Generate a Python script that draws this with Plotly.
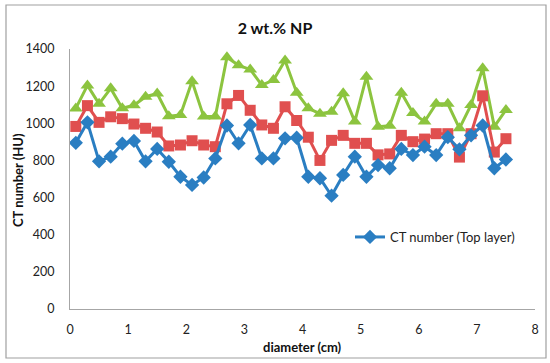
import plotly.graph_objects as go

diameter = [round(0.1 + 0.2 * i, 1) for i in range(38)]

top_layer = [895, 1005, 795, 820, 890, 905, 795, 862, 793, 712,
             668, 708, 811, 988, 892, 991, 811, 811, 919, 922,
             712, 704, 610, 722, 820, 712, 775, 758, 862, 829,
             874, 829, 925, 860, 935, 988, 758, 805]

middle_layer = [983, 1095, 1005, 1035, 1025, 996, 973, 953, 878, 883,
                906, 883, 874, 1105, 1150, 1070, 991, 973, 1089, 1015,
                925, 800, 908, 935, 892, 892, 830, 835, 935, 901,
                915, 944, 944, 818, 944, 1148, 845, 917]

bottom_layer = [1080, 1204, 1105, 1188, 1081, 1097, 1143, 1160, 1038, 1045,
                1226, 1036, 1036, 1355, 1312, 1290, 1206, 1233, 1338, 1165,
                1081, 1052, 1062, 1162, 1009, 1251, 982, 987, 1165, 1055,
                1009, 1105, 1105, 973, 1099, 1296, 982, 1072]

x_ticks = [0, 1, 2, 3, 4, 5, 6, 7, 8]
y_ticks = [0, 200, 400, 600, 800, 1000, 1200, 1400]

BLUE = "#2a7ec2"
RED = "#e04f4f"
GREEN = "#8cc43f"
FONT = "Lato, 'Open Sans', sans-serif"

L, R, T, B = 70, 15, 49, 54
W, H = 550, 363
PW, PH = W - L - R, H - T - B


def px(xp):
    return (xp - L) / PW


def py(yp):
    return (H - B - yp) / PH


fig = go.Figure()
fig.add_trace(go.Scatter(
    x=diameter, y=bottom_layer, mode="lines+markers",
    name="CT number (Bottom layer)", showlegend=False,
    line=dict(color=GREEN, width=3),
    marker=dict(symbol="triangle-up", size=12, color=GREEN)))
fig.add_trace(go.Scatter(
    x=diameter, y=middle_layer, mode="lines+markers",
    name="CT number (Middle layer)", showlegend=False,
    line=dict(color=RED, width=3),
    marker=dict(symbol="square", size=11, color=RED)))
fig.add_trace(go.Scatter(
    x=diameter, y=top_layer, mode="lines+markers",
    name="CT number (Top layer)", showlegend=True,
    line=dict(color=BLUE, width=3),
    marker=dict(symbol="diamond", size=11, color=BLUE)))

fig.update_layout(
    width=W, height=H,
    margin=dict(l=L, r=R, t=T, b=B, autoexpand=False),
    paper_bgcolor="white", plot_bgcolor="white",
    font=dict(family=FONT, size=12, color="#222"),
    title=dict(text="<b>2 wt.% NP</b>", x=0.5, xanchor="center",
               y=1 - 28 / H, yanchor="middle",
               font=dict(size=16, color="#111", family=FONT)),
    legend=dict(x=px(350), y=py(237), xanchor="left", yanchor="middle",
                bgcolor="rgba(0,0,0,0)", font=dict(size=13, color="#222"),
                itemwidth=30),
    xaxis=dict(range=[0, 8], tickvals=x_ticks, showgrid=False, zeroline=False,
               showline=True, linecolor="#a6a6a6", linewidth=1.2,
               ticks="", ticklabelstandoff=9, automargin=False,
               tickfont=dict(size=12.5)),
    yaxis=dict(range=[0, 1400], tickvals=y_ticks, showgrid=False, zeroline=False,
               showline=True, linecolor="#a6a6a6", linewidth=1.2,
               ticks="", ticklabelstandoff=12, automargin=False,
               tickfont=dict(size=12.5)),
    annotations=[
        dict(text="<b>diameter (cm)</b>", xref="paper", yref="paper",
             x=px(302), y=py(347), xanchor="center", yanchor="middle",
             showarrow=False, font=dict(size=13, color="#111")),
        dict(text="<b>CT number (HU)</b>", xref="paper", yref="paper",
             x=px(18), y=py(180), xanchor="center", yanchor="middle",
             textangle=-90, showarrow=False, font=dict(size=13, color="#111")),
    ],
    shapes=[dict(type="rect", xref="paper", yref="paper",
                 x0=px(6), x1=px(546), y0=py(358), y1=py(5),
                 line=dict(color="#a0a0a0", width=1.2),
                 fillcolor="rgba(0,0,0,0)", layer="below")],
)

fig.write_html(
    "out.html",
    config={"displayModeBar": False},
    post_script="document.body.style.margin='0';document.body.style.padding='0';"
                "document.body.style.overflow='hidden';",
)
